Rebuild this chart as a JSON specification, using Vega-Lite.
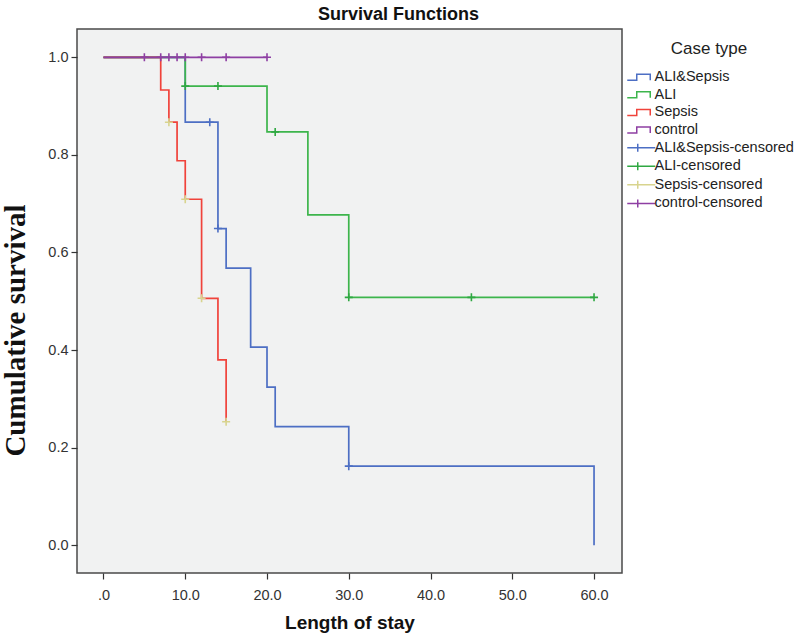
{
  "$schema": "https://vega.github.io/schema/vega-lite/v6.json",
  "width": 545,
  "height": 544,
  "autosize": {"type": "none"},
  "padding": {"left": 77, "top": 29, "right": 178, "bottom": 66},
  "background": "white",
  "title": {
    "text": "Survival Functions",
    "font": "Liberation Sans",
    "fontSize": 18,
    "fontWeight": "bold",
    "color": "#111111",
    "anchor": "middle",
    "dx": 49,
    "offset": 5
  },
  "datasets": {
    "steps": [
      {"series": "ALI&Sepsis", "t": 0, "s": 1.0},
      {"series": "ALI&Sepsis", "t": 10, "s": 0.867},
      {"series": "ALI&Sepsis", "t": 14, "s": 0.649},
      {"series": "ALI&Sepsis", "t": 15, "s": 0.568},
      {"series": "ALI&Sepsis", "t": 18, "s": 0.406},
      {"series": "ALI&Sepsis", "t": 20, "s": 0.324},
      {"series": "ALI&Sepsis", "t": 21, "s": 0.243},
      {"series": "ALI&Sepsis", "t": 30, "s": 0.162},
      {"series": "ALI&Sepsis", "t": 60, "s": 0.0},
      {"series": "ALI", "t": 0, "s": 1.0},
      {"series": "ALI", "t": 10, "s": 0.941},
      {"series": "ALI", "t": 20, "s": 0.847},
      {"series": "ALI", "t": 25, "s": 0.677},
      {"series": "ALI", "t": 30, "s": 0.508},
      {"series": "ALI", "t": 60, "s": 0.508},
      {"series": "Sepsis", "t": 0, "s": 1.0},
      {"series": "Sepsis", "t": 7, "s": 0.933},
      {"series": "Sepsis", "t": 8, "s": 0.867},
      {"series": "Sepsis", "t": 9, "s": 0.788},
      {"series": "Sepsis", "t": 10, "s": 0.709},
      {"series": "Sepsis", "t": 12, "s": 0.506},
      {"series": "Sepsis", "t": 14, "s": 0.38},
      {"series": "Sepsis", "t": 15, "s": 0.253},
      {"series": "control", "t": 0, "s": 1.0},
      {"series": "control", "t": 20, "s": 1.0}
    ],
    "censored": [
      {"series": "ALI&Sepsis-censored", "t": 13, "s": 0.867},
      {"series": "ALI&Sepsis-censored", "t": 14, "s": 0.649},
      {"series": "ALI&Sepsis-censored", "t": 30, "s": 0.162},
      {"series": "ALI-censored", "t": 10, "s": 0.941},
      {"series": "ALI-censored", "t": 14, "s": 0.941},
      {"series": "ALI-censored", "t": 21, "s": 0.847},
      {"series": "ALI-censored", "t": 30, "s": 0.508},
      {"series": "ALI-censored", "t": 45, "s": 0.508},
      {"series": "ALI-censored", "t": 60, "s": 0.508},
      {"series": "Sepsis-censored", "t": 8, "s": 0.867},
      {"series": "Sepsis-censored", "t": 10, "s": 0.709},
      {"series": "Sepsis-censored", "t": 12, "s": 0.506},
      {"series": "Sepsis-censored", "t": 15, "s": 0.253},
      {"series": "control-censored", "t": 5, "s": 1.0},
      {"series": "control-censored", "t": 7, "s": 1.0},
      {"series": "control-censored", "t": 8, "s": 1.0},
      {"series": "control-censored", "t": 9, "s": 1.0},
      {"series": "control-censored", "t": 10, "s": 1.0},
      {"series": "control-censored", "t": 12, "s": 1.0},
      {"series": "control-censored", "t": 15, "s": 1.0},
      {"series": "control-censored", "t": 20, "s": 1.0}
    ]
  },
  "encoding": {
    "x": {
      "field": "t",
      "type": "quantitative",
      "scale": {"domain": [-3.24, 63.42], "nice": false, "zero": false},
      "axis": {
        "title": "Length of stay",
        "values": [0, 10, 20, 30, 40, 50, 60],
        "labelExpr": "datum.value == 0 ? '.0' : format(datum.value, '.1f')",
        "grid": false,
        "domain": false,
        "tickSize": 6,
        "tickColor": "#333333",
        "tickWidth": 1.2,
        "labelFont": "Liberation Sans",
        "labelFontSize": 14.5,
        "labelColor": "#333333",
        "labelPadding": 9,
        "titleFont": "Liberation Sans",
        "titleFontSize": 19,
        "titleFontWeight": "bold",
        "titleColor": "#111111",
        "titlePadding": 12
      }
    },
    "y": {
      "field": "s",
      "type": "quantitative",
      "scale": {"domain": [-0.057, 1.058], "nice": false, "zero": false},
      "axis": {
        "title": "Cumulative survival",
        "values": [0, 0.2, 0.4, 0.6, 0.8, 1.0],
        "format": ".1f",
        "grid": false,
        "domain": false,
        "tickSize": 6,
        "tickColor": "#333333",
        "tickWidth": 1.2,
        "labelFont": "Liberation Sans",
        "labelFontSize": 14.5,
        "labelColor": "#333333",
        "labelPadding": 3,
        "titleFont": "Liberation Serif",
        "titleFontSize": 29,
        "titleFontWeight": "bold",
        "titleColor": "#111111",
        "titleX": -47,
        "titleY": 301
      }
    },
    "color": {
      "field": "series",
      "type": "nominal",
      "scale": {
        "domain": ["ALI&Sepsis", "ALI", "Sepsis", "control", "ALI&Sepsis-censored", "ALI-censored", "Sepsis-censored", "control-censored"],
        "range": ["#4d6fc4", "#3db54c", "#f0433b", "#8e3fa3", "#4d6fc4", "#2fa842", "#d8d48e", "#8e3fa3"]
      },
      "legend": {
        "title": "Case type",
        "orient": "none",
        "legendX": 548,
        "legendY": 12,
        "titleFont": "Liberation Sans",
        "titleFontSize": 17,
        "titleFontWeight": "normal",
        "titleColor": "#222222",
        "titleAnchor": "middle",
        "titlePadding": 12,
        "labelFont": "Liberation Sans",
        "labelFontSize": 14.5,
        "labelColor": "#222222",
        "labelOffset": 15,
        "symbolSize": 100,
        "symbolOffset": 0,
        "symbolStrokeWidth": 1.5,
        "rowPadding": 2.6,
        "padding": 0,
        "encode": {
          "symbols": {
            "update": {
              "shape": {"signal": "indexof(datum.value, 'censored') >= 0 ? 'M-1,0L4.6,0M1.1,-0.8L1.1,0.8' : 'M-1,0.6L0.9,0.6L0.9,-0.6L3.6,-0.6L3.6,0.6'"},
              "fill": {"value": "transparent"},
              "strokeWidth": {"value": 1.5},
              "opacity": {"value": 1}
            }
          }
        }
      }
    }
  },
  "layer": [
    {
      "data": {"name": "steps"},
      "transform": [{"filter": "datum.series == 'ALI&Sepsis'"}],
      "mark": {"type": "line", "interpolate": "step-after", "strokeWidth": 1.7}
    },
    {
      "data": {"name": "steps"},
      "transform": [{"filter": "datum.series == 'ALI'"}],
      "mark": {"type": "line", "interpolate": "step-after", "strokeWidth": 1.7}
    },
    {
      "data": {"name": "steps"},
      "transform": [{"filter": "datum.series == 'Sepsis'"}],
      "mark": {"type": "line", "interpolate": "step-after", "strokeWidth": 1.7}
    },
    {
      "data": {"name": "steps"},
      "transform": [{"filter": "datum.series == 'control'"}],
      "mark": {"type": "line", "interpolate": "step-after", "strokeWidth": 1.7}
    },
    {
      "data": {"name": "censored"},
      "mark": {
        "type": "point",
        "shape": "M-1,0L1,0M0,-1L0,1",
        "size": 64,
        "filled": false,
        "opacity": 1,
        "strokeWidth": 1.6
      }
    }
  ],
  "config": {
    "view": {"fill": "#f1f2f2", "stroke": "#4a4a4a", "strokeWidth": 1.5}
  }
}
